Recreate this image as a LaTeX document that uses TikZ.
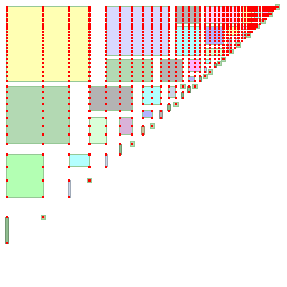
\documentclass[tikz,border=0pt]{standalone}
\begin{document}
\pgfmathdeclarefunction{PX}{1}{\pgfmathparse{6.7+90.4*ln((#1+1)/2)}}
\definecolor{bord}{RGB}{150,200,150}
\definecolor{cyel}{RGB}{255,255,179}
\definecolor{clav}{RGB}{217,217,255}
\definecolor{cgry}{RGB}{179,179,179}
\definecolor{cmgr}{RGB}{179,217,179}
\definecolor{ccya}{RGB}{179,255,255}
\definecolor{clgr}{RGB}{179,255,179}
\definecolor{cpgr}{RGB}{217,255,217}
\definecolor{cmau}{RGB}{217,179,217}
\definecolor{cbvi}{RGB}{179,179,255}
\definecolor{cstb}{RGB}{200,212,230}
\definecolor{cpnk}{RGB}{255,179,255}
\definecolor{cppk}{RGB}{255,217,255}
\definecolor{ctan}{RGB}{200,190,150}
\definecolor{cbar}{RGB}{143,188,143}
\newcommand{\NN}{40}
\newcommand{\blk}[5]{%
  \pgfmathsetmacro\xa{PX(#1)}\pgfmathsetmacro\xb{PX(#2)}%
  \pgfmathsetmacro\ya{286.6-PX(#4)}\pgfmathsetmacro\yb{286.6-PX(#3)}%
  \filldraw[fill=#5, draw=bord, line width=0.9pt] (\xa,\ya) rectangle (\xb,\yb);}
\newcommand{\vbr}[4]{%
  \pgfmathsetmacro\xa{PX(#1)}%
  \pgfmathsetmacro\ya{286.6-PX(#3)}\pgfmathsetmacro\yb{286.6-PX(#2)}%
  \filldraw[fill=#4, draw=#4!80!black, line width=0.5pt] (\xa-1.1,\ya) rectangle (\xa+1.1,\yb);}
\newcommand{\sqb}[3]{%
  \pgfmathsetmacro\xa{PX(#1)}\pgfmathsetmacro\ya{286.6-PX(#2)}%
  \filldraw[fill=#3, draw=bord, line width=0.6pt] (\xa-2.2,\ya-2.2) rectangle (\xa+2.2,\ya+2.2);}
\begin{tikzpicture}[x=1pt,y=-1pt]
\useasboundingbox (0,0) rectangle (287,287);
\fill[white] (0,0) rectangle (287,287);
% lower-left part
\blk{1}{4}{17}{\NN}{cyel}
\blk{1}{3}{8}{16}{cmgr}
\blk{1}{2}{4}{7}{clgr}
\vbr{1}{2}{3}{cbar}
\sqb{2}{3}{ctan}
\vbr{3}{4}{5}{cstb}
\sqb{4}{5}{cmau}
\blk{3}{4}{6}{7}{ccya}
\vbr{5}{6}{7}{cstb}
\vbr{6}{7}{8}{cbar}
\sqb{7}{8}{cmgr}
\blk{4}{5}{8}{11}{cpgr}
\blk{6}{7}{9}{11}{cmau}
\vbr{8}{9}{10}{ctan}
\sqb{9}{10}{cmgr}
\blk{4}{7}{12}{16}{cgry}
\blk{8}{10}{13}{16}{ccya}
\blk{8}{9}{11}{12}{cbvi}
\vbr{10}{11}{12}{cgry}
\vbr{11}{12}{13}{cbar}
\sqb{12}{13}{cmgr}
\blk{11}{12}{14}{16}{cstb}
\vbr{13}{14}{15}{cbar}
\sqb{13}{16}{cmgr}
\vbr{14}{15}{16}{cbar}
\sqb{15}{16}{cmgr}
\blk{5}{11}{23}{\NN}{clav}
\blk{5}{9}{17}{22}{cmgr}
\blk{10}{13}{17}{22}{cgry}
\blk{12}{16}{23}{32}{ccya}
\blk{12}{16}{33}{\NN}{cgry}
% upper-right part
\blk{14}{15}{17}{18}{cbvi}
\blk{14}{16}{19}{22}{cpnk}
\vbr{16}{17}{18}{cbar}
\sqb{17}{18}{cmgr}
\vbr{17}{19}{20}{cstb}
\sqb{18}{19}{cmgr}
\blk{17}{18}{21}{22}{ccya}
\vbr{19}{20}{21}{cbar}
\sqb{20}{21}{cmgr}
\sqb{21}{22}{cmgr}
\blk{17}{21}{23}{25}{cpgr}
\blk{17}{21}{26}{32}{cbvi}
\blk{22}{23}{24}{28}{cmau}
\sqb{23}{24}{cmgr}
\blk{24}{25}{26}{28}{cppk}
\sqb{25}{26}{cmgr}
\blk{22}{25}{29}{32}{cyel}
\blk{26}{27}{28}{30}{cstb}
\sqb{28}{29}{cmgr}
\blk{26}{29}{31}{32}{cppk}
\sqb{31}{32}{cmgr}
\blk{17}{25}{33}{\NN}{cppk}
\blk{26}{29}{33}{\NN}{cyel}
\blk{30}{32}{35}{\NN}{ccya}
\sqb{33}{34}{cmgr}
\blk{33}{35}{37}{\NN}{cpnk}
\sqb{36}{37}{cmgr}
\sqb{39}{40}{cmgr}
% dots
\foreach \j in {2,...,\NN}{%
  \pgfmathsetmacro\yy{286.6-PX(\j)}%
  \pgfmathtruncatemacro\jm{\j-1}%
  \foreach \i in {1,...,\jm}{%
    \pgfmathsetmacro\xx{PX(\i)}%
    \fill[red] (\xx-1.1,\yy-1.1) rectangle (\xx+1.1,\yy+1.1);}}
\end{tikzpicture}
\end{document}
